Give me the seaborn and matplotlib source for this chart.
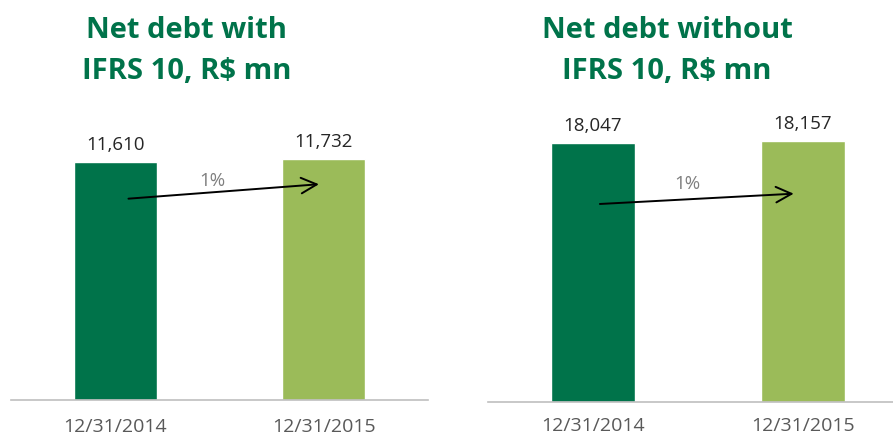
import matplotlib
matplotlib.use('Agg')
import matplotlib.pyplot as plt
import seaborn as sns
import pandas as pd

sns.set_style('white')
plt.rcParams['font.family'] = ['Open Sans', 'DejaVu Sans']

dates = ['12/31/2014', '12/31/2015']
with_ifrs = [11610, 11732]
without_ifrs = [18047, 18157]
titles = ['Net debt with\nIFRS 10, R$ mn', 'Net debt without\nIFRS 10, R$ mn']

dark_green = '#00734A'
light_green = '#9BBB59'
colors = [dark_green, light_green]

W, H = 893, 439
fig = plt.figure(figsize=(W / 100, H / 100), dpi=100)

# axes boxes in pixels: left, bottom(y from top), right, top
panels = [
    (11, 401, 428, 100, with_ifrs, 14683, (0.05, 0.845), (0.99, 0.898), (212, 181), 187),
    (488, 403, 893, 100, without_ifrs, 21113, (0.02, 0.764), (0.97, 0.80), (687, 184), 667),
]

for i, (x0, yb, x1, yt, vals, ytop, a_start, a_end, pct_pos, cx) in enumerate(panels):
    ax = fig.add_axes([x0 / W, 1 - yb / H, (x1 - x0) / W, (yb - yt) / H])
    df = pd.DataFrame({'date': dates, 'value': vals})
    sns.barplot(data=df, x='date', y='value', hue='date', palette=colors,
                width=0.40, legend=False, ax=ax, saturation=1)
    ax.set_ylim(0, ytop)
    ax.set_xlim(-0.5, 1.5 if i == 0 else 1.43)
    for s in ['top', 'right', 'left']:
        ax.spines[s].set_visible(False)
    ax.spines['bottom'].set_color('#BFBFBF')
    ax.spines['bottom'].set_linewidth(1.2)
    ax.set_yticks([])
    ax.set_xlabel('')
    ax.set_ylabel('')
    ax.tick_params(axis='x', length=0, labelsize=14, labelcolor='#595959',
                   pad=12 if i == 0 else 10)

    for j, v in enumerate(vals):
        ax.text(j, v + ytop * 0.03, f'{v:,}', ha='center', va='bottom',
                fontsize=13.5, color='#262626')

    # growth arrow
    ax.annotate('', xy=(a_end[0], vals[1] * a_end[1]),
                xytext=(a_start[0], vals[0] * a_start[1]),
                arrowprops=dict(arrowstyle='->', color='black', lw=1.4,
                                mutation_scale=28))
    pct = (vals[1] / vals[0] - 1) * 100
    fig.text(pct_pos[0] / W, 1 - pct_pos[1] / H, f'{pct:.0f}%', ha='center',
             va='center', fontsize=13.5, color='#7F7F7F')

    fig.text(cx / W, 1 - 51 / H, titles[i], ha='center', va='center',
             fontsize=21, fontweight='bold', color=dark_green, linespacing=1.55)

fig.savefig('out.png', dpi=100)
